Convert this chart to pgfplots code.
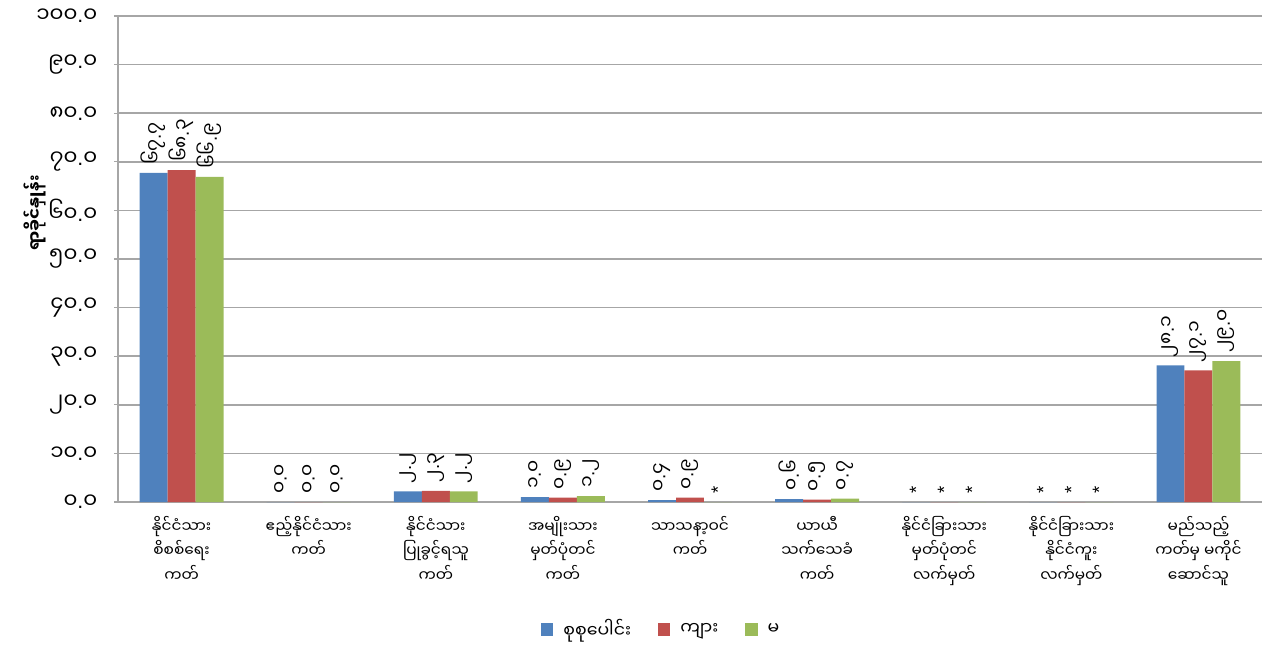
\documentclass[border=0pt]{standalone}
\usepackage{fontspec}
\setmainfont{Noto Sans Myanmar UI}[Script=Myanmar]
\newfontfamily\latinfont{Liberation Sans}
% the Myanmar font has no . or * : set them in Liberation Sans
\XeTeXinterchartokenstate=1
\newXeTeXintercharclass\latcls
\XeTeXcharclass`\.=\latcls
\XeTeXcharclass`\*=\latcls
\XeTeXinterchartoks 0 \latcls={\begingroup\latinfont}
\XeTeXinterchartoks 4095 \latcls={\begingroup\latinfont}
\XeTeXinterchartoks \latcls 0={\endgroup}
\XeTeXinterchartoks \latcls 4095={\endgroup}
\usepackage{pgfplots}
\usepackage{pgfplotstable}
\pgfplotsset{compat=1.18}
\usetikzlibrary{calc}

\definecolor{xlblue}{HTML}{4F81BD}
\definecolor{xlred}{HTML}{C0504D}
\definecolor{xlgreen}{HTML}{9BBB59}
\definecolor{gridgray}{HTML}{A6A6A6}

% x  total  male  female  + labels as printed
\pgfplotstableread{
x a    b    c    la    lb    lc
0 67.7 68.3 66.9 ၆၇.၇ ၆၈.၃ ၆၆.၉
1 0.0  0.0  0.0  ၀.၀  ၀.၀  ၀.၀
2 2.2  2.3  2.2  ၂.၂  ၂.၃  ၂.၂
3 1.0  0.9  1.2  ၁.၀  ၀.၉  ၁.၂
4 0.4  0.9  0.0  ၀.၄  ၀.၉  *
5 0.6  0.5  0.7  ၀.၆  ၀.၅  ၀.၇
6 0.0  0.0  0.0  *     *     *
7 0.0  0.0  0.0  *     *     *
8 28.1 27.1 29.0 ၂၈.၁ ၂၇.၁ ၂၉.၀
}\datatab

\begin{document}
\begin{tikzpicture}
\begin{axis}[
  name=main,
  scale only axis,
  width=858pt, height=364.5pt,
  ybar=0pt,
  bar width=0.22,
  xmin=-0.5, xmax=8.5,
  ymin=0, ymax=100,
  axis lines=left,
  axis line style={draw=gridgray, line width=1pt, -},
  xtick={0,...,8},
  xtick style={draw=none},
  xticklabels={
    {နိုင်ငံသား\\စိစစ်ရေး\\ကတ်},
    {ဧည့်နိုင်ငံသား\\ကတ်},
    {နိုင်ငံသား\\ပြုခွင့်ရသူ\\ကတ်},
    {အမျိုးသား\\မှတ်ပုံတင်\\ကတ်},
    {သာသနာ့ဝင်\\ကတ်},
    {ယာယီ\\သက်သေခံ\\ကတ်},
    {နိုင်ငံခြားသား\\မှတ်ပုံတင်\\လက်မှတ်},
    {နိုင်ငံခြားသား\\နိုင်ငံကူး\\လက်မှတ်},
    {မည်သည့်\\ကတ်မှ မကိုင်\\ဆောင်သူ}},
  xticklabel style={align=center, font=\fontsize{11.5}{18.5}\selectfont, yshift=-4pt},
  ytick={0,10,...,100},
  yticklabels={၀.၀,၁၀.၀,၂၀.၀,၃၀.၀,၄၀.၀,၅၀.၀,၆၀.၀,၇၀.၀,၈၀.၀,၉၀.၀,၁၀၀.၀},
  yticklabel style={font=\fontsize{16}{18}\selectfont, xshift=-9pt},
  tick align=outside,
  major tick length=3pt,
  ytick style={draw=gridgray, line width=1pt},
  ymajorgrids,
  grid style={draw=gridgray, line width=1.2pt},
  ylabel={ရာခိုင်နှုန်း},
  ylabel style={at={(axis description cs:-0.0726,0.595)}, anchor=center,
    font=\fontsize{12.5}{14}\selectfont\bfseries},
  point meta=explicit symbolic,
  nodes near coords={\pgfplotspointmeta},
  nodes near coords style={rotate=90, anchor=west, inner xsep=6pt,
    font=\fontsize{14}{16}\selectfont, text=black},
  legend columns=3,
  legend style={draw=none, at={(axis description cs:0.475,-0.263)}, anchor=center,
    font=\fontsize{13}{15}\selectfont,
    /tikz/every even column/.append style={column sep=18pt}},
  legend image code/.code={\fill[#1] (0pt,-4.5pt) rectangle (9.5pt,5pt); \path (15pt,0pt);},
]
\addplot[fill=xlblue, draw=none] table[x=x, y=a, meta=la] {\datatab};
\addplot[fill=xlred, draw=none] table[x=x, y=b, meta=lb] {\datatab};
\addplot[fill=xlgreen, draw=none] table[x=x, y=c, meta=lc] {\datatab};
\legend{စုစုပေါင်း, ကျား, မ}
\end{axis}
\pgfresetboundingbox
\path[use as bounding box] ($(main.south west)+(-88.5pt,-109.5pt)$) rectangle ($(main.north east)+(8.25pt,12pt)$);
\end{tikzpicture}
\end{document}
